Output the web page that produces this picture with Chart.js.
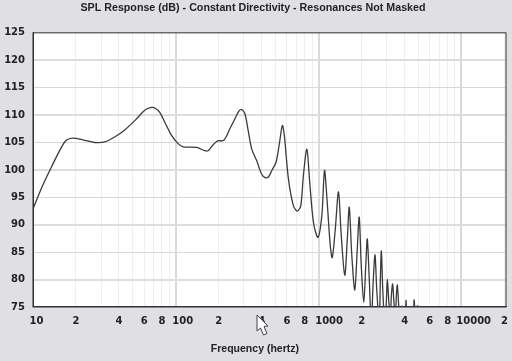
<!DOCTYPE html>
<html>
<head>
<meta charset="utf-8">
<title>SPL Response</title>
<script src="https://cdn.jsdelivr.net/npm/chart.js@4"></script>
<style>
    html, body { margin: 0; padding: 0; background: #e0e0e4; }
    canvas { display: block; }
</style>
</head>
<body>
<canvas id="chart" width="512" height="361"></canvas>
<script>
const freqHz = [
    10, 11.7, 13.8, 15.8, 17.1, 19, 22.4, 27, 31.8, 37.3, 43.9, 53, 60.6, 67.5, 71.3, 77.2, 83.7, 93.3,
    103.8, 112.5, 139.7, 159.8, 168.6, 182.8, 196.3, 217, 239, 259, 278, 290, 305, 321, 340, 368, 399,
    422, 445, 470, 503, 531, 557, 575, 614, 665, 710, 750, 782, 827, 862, 919, 988, 1053, 1099, 1143,
    1205, 1245, 1306, 1377, 1439, 1523, 1586, 1638, 1706, 1791, 1862, 1923, 1987, 2070, 2138, 2190,
    2262, 2336, 2413, 2481, 2553, 2659, 2704, 2748, 2813, 2904, 2978, 3027, 3098, 3177, 3228, 3296,
    3362, 3443, 3499, 3556, 3631, 3733, 3793, 3855, 4017, 4093, 4180, 4570, 4656, 4757, 4935, 5075,
];
const splDb = [
    92.9, 97.2, 101.1, 104.1, 105.4, 105.8, 105.5, 105, 105.1, 106, 107.3, 109.3, 110.9, 111.4, 111.3, 110.5, 108.7, 106.3,
    104.8, 104.2, 104.1, 103.5, 103.5, 104.6, 105.3, 105.4, 107.5, 109.3, 110.8, 111, 110.2, 107.2, 103.8, 101.7, 99.2,
    98.6, 98.7, 99.9, 101.4, 104.8, 108.1, 106.3, 98.4, 93.5, 92.5, 93.5, 99, 103.8, 98.4, 90.5, 87.7, 91.7, 99.9, 94.8,
    86.3, 84, 89, 96, 88.1, 80.8, 87.2, 93.2, 84.5, 78.1, 85.4, 91.4, 82.6, 75.8, 82.6, 87.4,
    80, 72, 80, 84.5, 78, 72, 80, 85.2, 78, 72, 76, 80.1, 76, 73, 77, 79.2,
    76, 73, 77, 79, 75.5, 72, 75.2, 72, 72, 76.2, 73, 73, 76.3, 74, 75.2, 70,
];
const yLabels = [75, 80, 85, 90, 95, 100, 105, 110, 115, 120, 125];
const xTicks = [
    10, 20, 30, 40, 50, 60, 70, 80, 90,
    100, 200, 300, 400, 500, 600, 700, 800, 900,
    1000, 2000, 3000, 4000, 5000, 6000, 7000, 8000, 9000,
    10000, 20000,
];
const xLabels = [
    '10', '2', '', '4', '', '6', '', '8', '',
    '100', '2', '', '4', '', '6', '', '8', '',
    '1000', '2', '', '4', '', '6', '', '8', '',
    '10000', '2',
];

// Labels of the decades sit right of their gridline, leading spaces shift them
const decadeIndent = { 1: 0, 2: 2, 3: 4, 4: 6, 5: 7 };

const labelFont = { family: '"DejaVu Sans"', size: 10, weight: 'bold' };
const isDecade = v => Math.abs(Math.log10(v) % 1) < 1e-6;

// Plugin : white plot background, frame and the stray mouse pointer of the screenshot
const framePlugin = {
    id: 'frame',
    beforeDraw(chart) {
        const { ctx, chartArea: { left, top, width, height } } = chart;
        ctx.save();
        ctx.fillStyle = '#fff';
        ctx.fillRect(left, top, width, height);
        ctx.restore();
    },
    afterDraw(chart) {
        const { ctx, chartArea: { left, top, width, height } } = chart;
        ctx.save();
        ctx.strokeStyle = '#333';
        ctx.lineWidth = 1;
        ctx.strokeRect(left, top, width, height);
        ctx.beginPath();
        ctx.moveTo(257, 315);
        ctx.lineTo(257, 331);
        ctx.lineTo(260.5, 328);
        ctx.lineTo(263.5, 335);
        ctx.lineTo(267, 333.5);
        ctx.lineTo(264, 326.5);
        ctx.lineTo(268, 326);
        ctx.closePath();
        ctx.fillStyle = '#fff';
        ctx.fill();
        ctx.strokeStyle = '#444';
        ctx.stroke();
        ctx.restore();
    },
};

new Chart(document.getElementById('chart'), {
    type: 'line',
    plugins: [framePlugin],
    data: {
        datasets: [{
            data: freqHz.map((f, i) => ({ x: f, y: splDb[i] })),
            borderColor: '#3a3a3a',
            borderWidth: 1.3,
            tension: 0.3,
            pointRadius: 0,
        }],
    },
    options: {
        responsive: false,
        animation: false,
        layout: { padding: { right: 6, bottom: 6, left: 0, top: 0 } },
        plugins: {
            legend: { display: false },
            tooltip: { enabled: false },
            title: {
                display: true,
                text: 'SPL Response (dB) - Constant Directivity - Resonances Not Masked',
                color: '#222',
                font: { family: '"Liberation Sans"', size: 10.7, weight: 'bold' },
                padding: { top: 2, bottom: 18 },
            },
        },
        scales: {
            x: {
                type: 'logarithmic',
                min: 10,
                max: 20500,
                afterBuildTicks(scale) {
                    scale.ticks = xTicks.map(value => ({ value }));
                },
                afterFit(scale) {
                    scale.height = 48;
                    scale.paddingRight = 0;
                },
                grid: {
                    drawTicks: false,
                    color: ctx => isDecade(ctx.tick.value) ? '#d9d9d9' : '#efefef',
                    lineWidth: ctx => isDecade(ctx.tick.value) ? 2 : 1,
                },
                border: { color: '#333', width: 1 },
                ticks: {
                    autoSkip: false,
                    maxRotation: 0,
                    minRotation: 0,
                    padding: 8,
                    color: '#222',
                    font: labelFont,
                    callback(value) {
                        const label = xLabels[xTicks.indexOf(value)] || '';
                        return isDecade(value) ? ' '.repeat(decadeIndent[label.length]) + label : label;
                    },
                },
                title: {
                    display: true,
                    // axis title is centred left of the plot middle, trailing spaces push it over
                    text: 'Frequency (hertz)' + ' '.repeat(10),
                    color: '#222',
                    font: { family: '"Liberation Sans"', size: 10.5, weight: 'bold' },
                    padding: { top: 10, bottom: 0 },
                },
            },
            y: {
                min: 75,
                max: 125,
                afterBuildTicks(scale) {
                    scale.ticks = yLabels.map(value => ({ value }));
                },
                afterFit(scale) {
                    scale.width = 33;
                },
                grid: {
                    drawTicks: false,
                    color: ctx => ctx.tick.value % 10 === 0 ? '#dddddd' : '#d8d8d8',
                    lineWidth: ctx => ctx.tick.value % 10 === 0 ? 2 : 1,
                },
                border: { color: '#333', width: 1 },
                ticks: {
                    padding: 8,
                    color: '#222',
                    font: labelFont,
                },
            },
        },
    },
});
</script>
</body>
</html>
